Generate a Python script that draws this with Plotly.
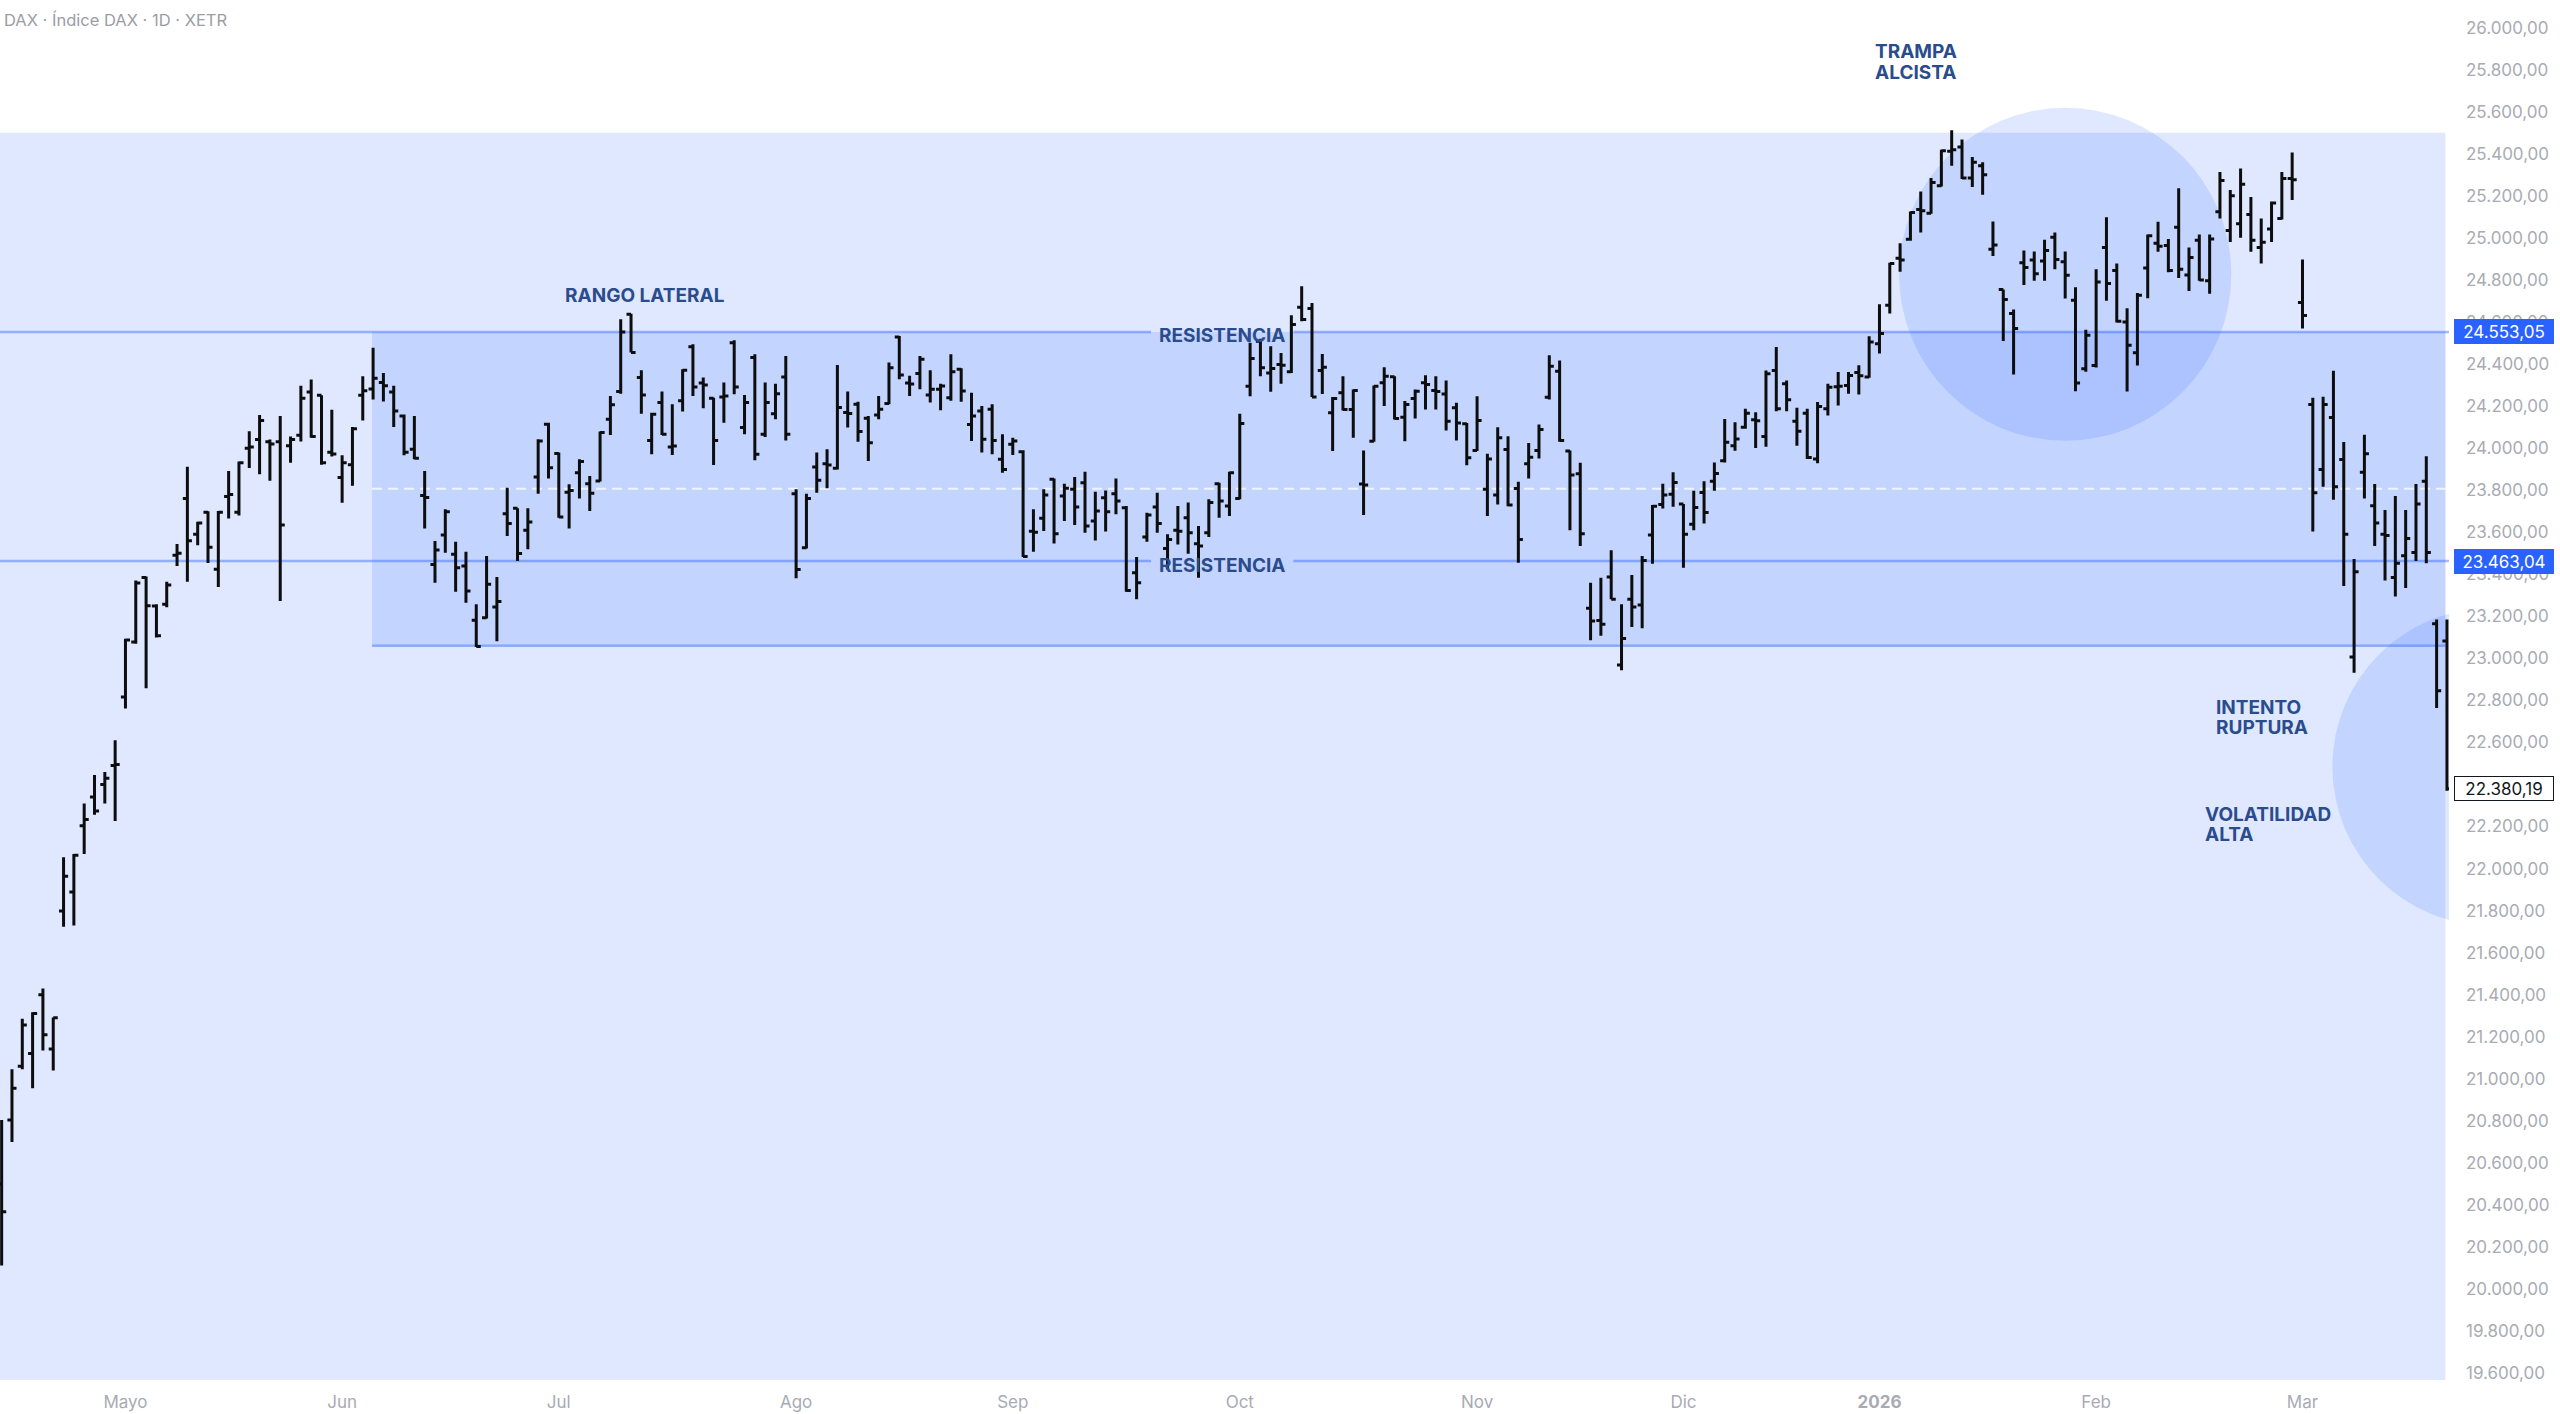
import plotly.graph_objects as go
import pandas as pd

# XETRA trading days shown in the chart (11 Apr 2025 - 20 Mar 2026)
holidays = ["2025-04-18", "2025-04-21", "2025-05-01", "2025-12-24",
            "2025-12-25", "2025-12-26", "2025-12-31", "2026-01-01"]
days = pd.bdate_range("2025-04-11", "2026-03-20")
days = days[~days.isin(pd.to_datetime(holidays))]
dates = list(days.strftime("%Y-%m-%d"))

# daily bars
open_ = [
    20500, 20804, 21060, 21120, 21400, 21142, 21798, 21888, 22204, 22340,
    22400, 22490, 22816, 23078, 23385, 23249, 23258, 23490, 23761, 23590,
    23695, 23424, 23770, 23695, 24000, 24041, 24030, 24030, 24011, 24062,
    24267, 24252, 23981, 23860, 23921, 24252, 24282, 24312, 24267, 24153,
    23995, 23775, 23447, 23587, 23495, 23439, 23181, 23193, 23244, 23688,
    23714, 23609, 23863, 24114, 23974, 23790, 23883, 23831, 23844, 24137,
    24269, 24637, 24336, 24037, 24217, 24006, 24225, 24482, 24310, 24237,
    24243, 24502, 24098, 24431, 24066, 24164, 24339, 23783, 23526, 23910,
    23926, 23904, 24170, 24209, 24142, 24158, 24212, 24529, 24310, 24355,
    24253, 24280, 24240, 24375, 24113, 24177, 24185, 23947, 24018, 23983,
    23605, 23666, 23852, 23772, 23804, 23836, 23653, 23764, 23783, 23717,
    23407, 23577, 23720, 23523, 23610, 23669, 23545, 23598, 23831, 23725,
    23761, 24295, 24509, 24358, 24398, 24363, 24670, 24664, 24370, 24168,
    24263, 24184, 23830, 24033, 24311, 24340, 24147, 24236, 24311, 24274,
    24258, 24192, 24116, 23989, 23804, 23777, 23994, 23808, 23926, 23989,
    24242, 24366, 23986, 23878, 23238, 23180, 23387, 22969, 23281, 23254,
    23587, 23732, 23781, 23734, 23638, 23789, 23842, 23940, 24012, 24100,
    24135, 24055, 24370, 24306, 24128, 24166, 23948, 24187, 24292, 24298,
    24360, 24338, 24497, 24680, 24903, 24994, 25135, 25118, 25248, 25412,
    25433, 25285, 25344, 24946, 24755, 24641, 24882, 24895, 24890, 25003,
    24887, 24704, 24378, 24393, 24954, 24845, 24600, 24454, 24857, 24975,
    24964, 25051, 24824, 24989, 24796, 25125, 25036, 25067, 25112, 24954,
    25042, 25092, 25283, 24693, 24208, 23899, 24146, 23946, 23006, 23885,
    23726, 23590, 23385, 23488, 23504, 23843, 23165, 23083,
]
high = [
    20804, 21045, 21286, 21316, 21430, 21292, 22054, 22069, 22310, 22445,
    22460, 22611, 23093, 23370, 23390, 23258, 23364, 23544, 23912, 23650,
    23700, 23701, 23891, 23936, 24080, 24158, 24041, 24153, 24056, 24297,
    24327, 24252, 24183, 23966, 24101, 24342, 24478, 24357, 24297, 24160,
    24153, 23891, 23558, 23709, 23555, 23507, 23257, 23487, 23387, 23812,
    23714, 23714, 24042, 24121, 23979, 23828, 23947, 23868, 24079, 24248,
    24613, 24640, 24371, 24169, 24269, 24209, 24375, 24494, 24336, 24240,
    24312, 24513, 24253, 24447, 24312, 24307, 24439, 23804, 23783, 23979,
    23995, 24396, 24269, 24221, 24153, 24248, 24407, 24534, 24344, 24439,
    24371, 24307, 24447, 24380, 24264, 24201, 24209, 24066, 24050, 23990,
    23709, 23804, 23856, 23831, 23863, 23888, 23793, 23799, 23856, 23725,
    23482, 23693, 23788, 23590, 23725, 23741, 23630, 23757, 23836, 23888,
    24164, 24501, 24521, 24485, 24453, 24632, 24770, 24691, 24448, 24243,
    24342, 24279, 23989, 24298, 24385, 24342, 24224, 24279, 24347, 24342,
    24322, 24216, 24120, 24247, 23973, 24100, 24057, 23840, 24025, 24113,
    24442, 24417, 23989, 23930, 23360, 23384, 23514, 23257, 23396, 23487,
    23729, 23831, 23885, 23734, 23797, 23842, 23932, 24139, 24123, 24187,
    24171, 24370, 24481, 24322, 24192, 24187, 24219, 24306, 24362, 24362,
    24394, 24532, 24685, 24882, 24975, 25126, 25221, 25285, 25420, 25512,
    25468, 25385, 25360, 25078, 24755, 24660, 24940, 24935, 24991, 25026,
    24935, 24765, 24563, 24851, 25098, 24878, 24666, 24738, 25016, 25077,
    24995, 25236, 24954, 25016, 25016, 25314, 25228, 25330, 25195, 25092,
    25174, 25314, 25407, 24898, 24240, 24245, 24368, 24029, 23473, 24064,
    23829, 23706, 23772, 23706, 23829, 23961, 23185, 23185,
]
low = [
    20112, 20699, 21045, 20955, 21135, 21039, 21723, 21729, 22069, 22256,
    22310, 22226, 22761, 23069, 22858, 23099, 23243, 23439, 23364, 23538,
    23454, 23340, 23665, 23680, 23906, 23876, 23845, 23273, 23930, 24032,
    24050, 23921, 23960, 23740, 23821, 24131, 24231, 24222, 24101, 23966,
    23947, 23618, 23360, 23503, 23317, 23265, 23054, 23190, 23082, 23582,
    23463, 23519, 23783, 23856, 23669, 23618, 23761, 23701, 23841, 24063,
    24259, 24455, 24164, 23971, 24063, 23968, 24174, 24248, 24190, 23920,
    24121, 24256, 24066, 23942, 24053, 24137, 24037, 23381, 23523, 23788,
    23809, 23899, 24098, 24031, 23939, 24137, 24209, 24328, 24248, 24280,
    24217, 24180, 24225, 24221, 24034, 23979, 23971, 23883, 23967, 23482,
    23507, 23606, 23546, 23653, 23634, 23598, 23561, 23603, 23685, 23317,
    23281, 23555, 23598, 23423, 23542, 23498, 23384, 23577, 23669, 23677,
    23757, 24247, 24342, 24268, 24306, 24358, 24604, 24243, 24258, 23986,
    24179, 24049, 23682, 24030, 24200, 24136, 24033, 24141, 24184, 24184,
    24084, 24037, 23919, 23986, 23677, 23732, 23724, 23455, 23856, 23951,
    24231, 24030, 23609, 23534, 23086, 23107, 23281, 22943, 23149, 23143,
    23450, 23713, 23721, 23431, 23609, 23641, 23797, 23932, 23988, 24092,
    24001, 24007, 24176, 24176, 24012, 23948, 23928, 24155, 24203, 24259,
    24255, 24335, 24450, 24641, 24839, 24987, 25026, 25115, 25245, 25344,
    25280, 25242, 25205, 24914, 24510, 24351, 24776, 24796, 24796, 24851,
    24712, 24271, 24364, 24384, 24701, 24598, 24269, 24393, 24713, 24934,
    24837, 24810, 24748, 24796, 24734, 25092, 24981, 25001, 24934, 24878,
    24981, 25088, 25180, 24569, 23603, 23817, 23755, 23344, 22932, 23761,
    23535, 23370, 23294, 23335, 23463, 23453, 22764, 22370,
]
close = [
    20368, 20955, 21256, 21310, 21210, 21290, 21963, 22063, 22234, 22274,
    22430, 22495, 23087, 23358, 23250, 23108, 23349, 23500, 23559, 23644,
    23529, 23695, 23780, 23930, 24005, 24131, 24020, 23635, 24041, 24237,
    24056, 23930, 23972, 23930, 24092, 24273, 24333, 24297, 24177, 23981,
    23952, 23765, 23515, 23698, 23431, 23320, 23057, 23352, 23270, 23641,
    23499, 23649, 24034, 23907, 23672, 23798, 23936, 23785, 24074, 24206,
    24553, 24455, 24253, 24161, 24066, 24010, 24371, 24291, 24300, 24037,
    24248, 24291, 24217, 23971, 24217, 24259, 24066, 23423, 23760, 23847,
    23920, 24193, 24165, 24079, 24026, 24185, 24383, 24348, 24305, 24423,
    24280, 24296, 24364, 24272, 24153, 24042, 24037, 23899, 24034, 23485,
    23600, 23777, 23593, 23809, 23720, 23630, 23701, 23698, 23749, 23323,
    23360, 23682, 23641, 23566, 23605, 23598, 23535, 23741, 23749, 23883,
    24117, 24426, 24382, 24379, 24395, 24588, 24612, 24243, 24385, 24236,
    24184, 24274, 23825, 24295, 24342, 24141, 24208, 24271, 24303, 24270,
    24128, 24120, 23954, 24132, 23949, 24049, 23729, 23566, 23957, 24089,
    24390, 24037, 23872, 23593, 23178, 23162, 23281, 23095, 23244, 23466,
    23724, 23777, 23837, 23590, 23718, 23694, 23880, 24028, 24044, 24166,
    24130, 24354, 24187, 24230, 24080, 23956, 24198, 24290, 24295, 24346,
    24345, 24505, 24545, 24879, 24895, 25121, 25130, 25264, 25415, 25420,
    25285, 25360, 25301, 24967, 24707, 24569, 24860, 24830, 24940, 24898,
    24823, 24310, 24537, 24790, 24783, 24604, 24490, 24728, 25010, 24960,
    24845, 24851, 24907, 24800, 24995, 25273, 25201, 25256, 24989, 24980,
    25166, 25283, 25277, 24631, 23788, 24208, 23817, 23590, 23412, 23973,
    23644, 23585, 23453, 23570, 23734, 23504, 22846, 22380.19,
]

# drawn levels
resistance_top = 24553.05
resistance_low = 23463.04
range_bottom = 23060
zone_top = 25500

month_names = ["Mayo", "Jun", "Jul", "Ago", "Sep", "Oct", "Nov", "Dic",
               "<b>2026</b>", "Feb", "Mar"]
month_starts = [d for i, d in enumerate(dates)
                if i > 0 and d[:7] != dates[i - 1][:7]]

FILL = "rgba(41,98,255,0.15)"
LINE = "rgba(41,98,255,0.42)"
TEXT = "#2b4c8c"
GREY = "#a8abb3"
FONT = "Inter, Roboto, sans-serif"

fig = go.Figure(go.Ohlc(
    x=dates, open=open_, high=high, low=low, close=close,
    increasing_line_color="#0d0d0d", decreasing_line_color="#0d0d0d",
    line_width=3, tickwidth=0.44, showlegend=False, hoverinfo="skip",
))

last = len(dates) - 1
right = last - 0.15
shapes = [
    # zones
    dict(type="rect", x0=-1, x1=right, y0=19000, y1=zone_top,
         fillcolor=FILL, line_width=0, layer="below"),
    dict(type="rect", x0=35.9, x1=right, y0=range_bottom, y1=resistance_top,
         fillcolor=FILL, line_width=0, layer="below"),
    dict(type="line", x0=35.9, x1=right, y0=range_bottom, y1=range_bottom,
         line=dict(color=LINE, width=2.5), layer="below"),
    dict(type="line", x0=35.9, x1=right,
         y0=(range_bottom + resistance_top) / 2,
         y1=(range_bottom + resistance_top) / 2,
         line=dict(color="rgba(255,255,255,0.75)", width=2, dash="10px,6px"),
         layer="below"),
    # circles
    dict(type="circle", x0=183.9, x1=216.1, y0=24035, y1=25619,
         fillcolor=FILL, line_width=0, layer="below"),
    dict(type="circle", x0=225.9, x1=256.7, y0=21728, y1=23240,
         fillcolor=FILL, line_width=0, layer="below"),
]
# horizontal levels, broken where the label sits
for lvl in (resistance_top, resistance_low):
    for a, b in ((-1, 111.4), (125.2, last + 3)):
        shapes.append(dict(type="line", x0=a, x1=b, y0=lvl, y1=lvl,
                           line=dict(color=LINE, width=2.5), layer="below"))

fig.update_layout(shapes=shapes)

labels = [
    ("RANGO LATERAL", 54.4, 24724, "left", 0),
    ("RESISTENCIA", 118.3, resistance_top, "center", -4),
    ("RESISTENCIA", 118.3, resistance_low, "center", -4),
    ("TRAMPA", 181.4, 25885, "left", 0),
    ("ALCISTA", 181.4, 25789, "left", 0),
    ("INTENTO", 214.4, 22768, "left", 0),
    ("RUPTURA", 214.4, 22673, "left", 0),
    ("VOLATILIDAD", 213.4, 22255, "left", 0),
    ("ALTA", 213.4, 22164, "left", 0),
]
for txt, x, y, anchor, dy in labels:
    fig.add_annotation(x=x, y=y, xref="x", yref="y", text=txt,
                       showarrow=False, xanchor=anchor, yanchor="middle",
                       yshift=dy, font=dict(family=FONT, size=19, color=TEXT,
                                            weight="bold"))

# price tags on the scale
for val, txt, bg, fg, border in (
        (resistance_top, "24.553,05", "#2962ff", "white", "#2962ff"),
        (resistance_low, "23.463,04", "#2962ff", "white", "#2962ff"),
        (close[-1], "22.380,19", "white", "#131722", "#131722")):
    fig.add_annotation(x=1, y=val, xref="paper", yref="y", text=txt,
                       showarrow=False, xanchor="left", yanchor="middle",
                       xshift=5, width=94, height=19, borderpad=2,
                       bgcolor=bg, bordercolor=border, borderwidth=1,
                       font=dict(family=FONT, size=17, color=fg))

fig.add_annotation(x=0, y=1, xref="paper", yref="paper",
                   text="DAX · Índice DAX · 1D · XETR", showarrow=False,
                   xanchor="left", yanchor="top", xshift=2, yshift=-8,
                   font=dict(family=FONT, size=16.5, color="#9a9da5"))

fig.update_layout(
    width=2560, height=1414,
    margin=dict(l=0, r=111, t=0, b=34),
    paper_bgcolor="white", plot_bgcolor="white",
    separators=",.",
    font=dict(family=FONT),
    showlegend=False,
    xaxis=dict(type="category", range=[-0.16, last + 0.2],
               tickvals=month_starts, ticktext=month_names,
               showgrid=False, zeroline=False, showline=False, ticks="",
               tickfont=dict(size=17, color=GREY), ticklabelstandoff=10,
               rangeslider=dict(visible=False), fixedrange=True),
    yaxis=dict(side="right", range=[19567, 26132], tick0=19600, dtick=200,
               tickformat=",.2f", showgrid=False, zeroline=False,
               showline=False, ticks="", ticklabelstandoff=16,
               tickfont=dict(size=17, color=GREY), fixedrange=True),
)

# page body has a default 8px margin; drop it so the figure fills the window
fig.write_html("out.html",
               config={"displayModeBar": False},
               post_script="document.body.style.margin='0';"
                           "document.body.style.overflow='hidden';")
